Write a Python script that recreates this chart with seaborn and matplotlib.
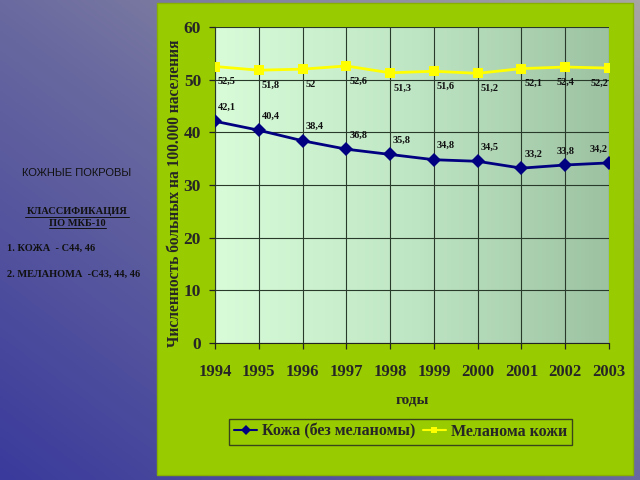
import numpy as np
import pandas as pd
import seaborn as sns
import matplotlib.pyplot as plt
from matplotlib.patches import Rectangle
from matplotlib.colors import LinearSegmentedColormap

years = [1994, 1995, 1996, 1997, 1998, 1999, 2000, 2001, 2002, 2003]
skin = [42.1, 40.4, 38.4, 36.8, 35.8, 34.8, 34.5, 33.2, 33.8, 34.2]
melanoma = [52.5, 51.8, 52.0, 52.6, 51.3, 51.6, 51.2, 52.1, 52.4, 52.2]
skin_name = 'Кожа (без меланомы)'
mel_name = 'Меланома кожи'

df = pd.DataFrame({'year': years * 2,
                   'value': skin + melanoma,
                   'series': [skin_name] * len(years) + [mel_name] * len(years)})

sns.set_style('white')
plt.rcParams['font.family'] = ['Liberation Serif', 'DejaVu Serif']

fig = plt.figure(figsize=(6.4, 4.8), dpi=100)

# slide background gradient (grey top-right -> blue bottom-left)
bg = fig.add_axes([0, 0, 1, 1], zorder=-10)
yy, xx = np.mgrid[0:1:200j, 0:1:200j]
t = np.clip((yy + xx) / 2, 0, 1)
cmap_bg = LinearSegmentedColormap.from_list('bg', ['#3a3a9c', '#6a6aa0', '#a8a6a4'])
bg.imshow(t, cmap=cmap_bg, origin='lower', extent=[0, 1, 0, 1], aspect='auto')
bg.set_axis_off()

# green panel
fig.patches.append(Rectangle((157 / 640, 5 / 480), (633 - 157) / 640, (477 - 5) / 480,
                             transform=fig.transFigure, facecolor='#99cc00',
                             edgecolor='#88b000', lw=1, zorder=-5))

# left text block
fig.text(77 / 640, 1 - 173 / 480, 'КОЖНЫЕ ПОКРОВЫ', ha='center', va='center',
         fontsize=8, family=['Liberation Sans'], color='#111111')
fig.text(77 / 640, 1 - 212 / 480, 'КЛАССИФИКАЦИЯ', ha='center', va='center',
         fontsize=7.5, color='#111111', weight='bold')
fig.text(77 / 640, 1 - 223 / 480, 'ПО МКБ-10', ha='center', va='center',
         fontsize=7.5, color='#111111', weight='bold')
fig.add_artist(plt.Line2D([25 / 640, 129 / 640], [1 - 217 / 480, 1 - 217 / 480],
                          color='#111111', lw=0.7))
fig.add_artist(plt.Line2D([49 / 640, 106 / 640], [1 - 228 / 480, 1 - 228 / 480],
                          color='#111111', lw=0.7))
fig.text(7 / 640, 1 - 248 / 480, '1. КОЖА  - C44, 46', ha='left', va='center',
         fontsize=7.5, color='#111111', weight='bold')
fig.text(7 / 640, 1 - 274 / 480, '2. МЕЛАНОМА  -C43, 44, 46', ha='left', va='center',
         fontsize=7.5, color='#111111', weight='bold')

ax = fig.add_axes([215 / 640, 1 - 343 / 480, (609 - 215) / 640, (343 - 27) / 480])

# plot area gradient
cmap_pa = LinearSegmentedColormap.from_list('pa', ['#d8fcd8', '#bfe6c4', '#9cc2a2'])
ax.imshow(np.linspace(0, 1, 100).reshape(1, -1), cmap=cmap_pa,
          extent=[1994, 2003, 0, 60], aspect='auto', zorder=0)

sns.lineplot(data=df, x='year', y='value', hue='series', style='series',
             palette={skin_name: '#000080', mel_name: '#ffff00'},
             markers={skin_name: 'D', mel_name: 's'}, dashes=False,
             markersize=7, linewidth=2, markeredgewidth=0, ax=ax, zorder=3)


def fmt(v):
    s = ('%.1f' % v).replace('.', ',')
    return s[:-2] if s.endswith(',0') else s


def place(i):
    if i == len(years) - 1:
        return -1, 'right'
    if i == len(years) - 2:
        return 0, 'center'
    return 3, 'left'


for i, (x, v) in enumerate(zip(years, skin)):
    dx, ha = place(i)
    ax.annotate(fmt(v), (x, v), xytext=(dx, 14), textcoords='offset pixels',
                fontsize=7.5, weight='bold', color='#111111', ha=ha, va='center')
for i, (x, v) in enumerate(zip(years, melanoma)):
    dx, ha = place(i)
    ax.annotate(fmt(v), (x, v), xytext=(dx, -15), textcoords='offset pixels',
                fontsize=7.5, weight='bold', color='#111111', ha=ha, va='center')

ax.set_xlim(1994, 2003)
ax.set_ylim(0, 60)
ax.set_xticks(years)
ax.set_xticklabels([str(y) for y in years])
ax.set_yticks(range(0, 61, 10))
ax.grid(True, color='#2a3a2a', lw=0.8, zorder=1)
ax.set_axisbelow(False)
for s in ax.spines.values():
    s.set_visible(False)
ax.spines['left'].set_visible(True)
ax.spines['bottom'].set_visible(True)
ax.spines['left'].set_color('#222222')
ax.spines['bottom'].set_color('#222222')
ax.tick_params(axis='both', which='both', direction='out', length=4, width=0.9,
               color='#222222', left=True, bottom=True)
ax.tick_params(axis='x', labelsize=12, pad=11)
ax.tick_params(axis='y', labelsize=12.5, pad=6)
for lbl in ax.get_xticklabels() + ax.get_yticklabels():
    lbl.set_fontweight('bold')
ax.set_xlabel('годы', fontsize=11, weight='bold')
ax.xaxis.set_label_coords(0.5, (343 - 394) / 316)
ax.set_ylabel('Численность больных на 100.000 населения', fontsize=11.2, weight='bold')
ax.yaxis.set_label_coords((183 - 215) / 394, 0.475)

leg = ax.legend(loc='upper center', bbox_to_anchor=(0.471, -0.24), ncol=2,
                frameon=True, fancybox=False, fontsize=11.5, handlelength=1.45,
                columnspacing=0.45, handletextpad=0.3, borderpad=0.3,
                borderaxespad=0)
leg.get_frame().set_facecolor('#99cc00')
leg.get_frame().set_edgecolor('#222222')
for txt in leg.get_texts():
    txt.set_fontweight('bold')
for h in leg.legend_handles:
    h.set_markersize(5)
    h.set_linewidth(1.5)

fig.savefig('out.png', dpi=100)
